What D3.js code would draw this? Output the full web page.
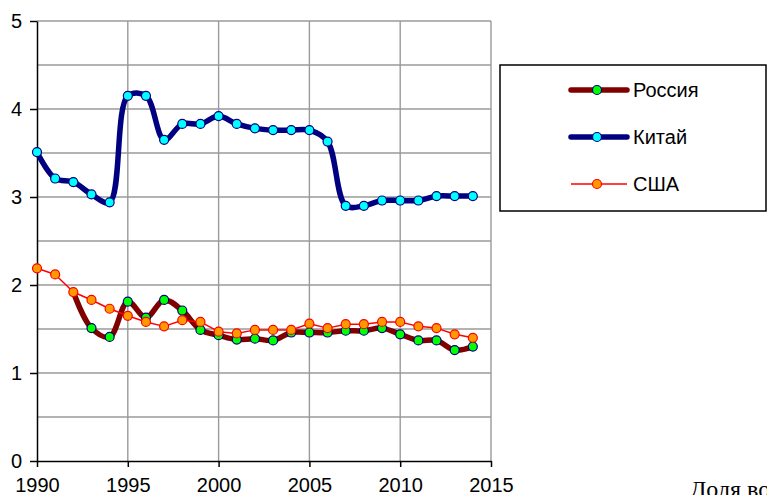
<!DOCTYPE html>
<html>
<head>
<meta charset="utf-8">
<script src="https://cdn.jsdelivr.net/npm/d3@7"></script>
<style>
  html, body { margin: 0; padding: 0; background: #fff; }
  svg { display: block; }
</style>
</head>
<body>
<div id="chart"></div>
<script>
const years = d3.range(1990, 2015);
const russia = [null, null, 1.92, 1.51, 1.41, 1.81, 1.63, 1.83, 1.71, 1.49, 1.43, 1.38, 1.39, 1.37,
  1.46, 1.46, 1.46, 1.48, 1.48, 1.51, 1.44, 1.37, 1.37, 1.26, 1.30];
const china = [3.51, 3.21, 3.17, 3.03, 2.94, 4.15, 4.15, 3.65, 3.83, 3.83, 3.92, 3.83, 3.78, 3.76,
  3.76, 3.76, 3.63, 2.90, 2.90, 2.96, 2.96, 2.96, 3.01, 3.01, 3.01];
const usa = [2.19, 2.12, 1.92, 1.83, 1.73, 1.65, 1.58, 1.53, 1.60, 1.58, 1.47, 1.45, 1.49, 1.49,
  1.49, 1.56, 1.51, 1.555, 1.555, 1.58, 1.58, 1.53, 1.51, 1.44, 1.40];
const xTicks = [1990, 1995, 2000, 2005, 2010, 2015];
const yTicks = [0, 1, 2, 3, 4, 5];
const seriesNames = ["Россия", "Китай", "США"];
const footText = "Доля военных расходов в ВВП";

const W = 767, H = 495;
const svg = d3.select("#chart").append("svg")
  .attr("width", W).attr("height", H)
  .style("font-family", "Arial, 'Liberation Sans', sans-serif");

const x = d3.scaleLinear().domain([1990, 2015]).range([37, 491]);
const y = d3.scaleLinear().domain([0, 5]).range([461, 21]);

// grid
const grid = svg.append("g").attr("stroke", "#9a9a9a").attr("stroke-width", 1.4);
grid.selectAll("line.h")
  .data(d3.range(0.5, 5.01, 0.5))
  .join("line")
  .attr("x1", x(1990)).attr("x2", x(2015))
  .attr("y1", d => y(d)).attr("y2", d => y(d));
grid.selectAll("line.v")
  .data(xTicks.slice(1))
  .join("line")
  .attr("x1", d => x(d)).attr("x2", d => x(d))
  .attr("y1", y(0)).attr("y2", y(5));

// axes
svg.append("g")
  .attr("transform", `translate(${x(1990)},0)`)
  .call(d3.axisLeft(y).tickValues(yTicks).tickFormat(d3.format("d")).tickSize(7).tickPadding(8).tickSizeOuter(0))
  .call(g => g.selectAll("line, path").attr("stroke", "#000").attr("stroke-width", 1.5))
  .selectAll("text")
  .attr("fill", "#000")
  .style("font-size", "20px");

svg.append("g")
  .attr("transform", `translate(0,${y(0)})`)
  .call(d3.axisBottom(x).tickValues(xTicks).tickFormat(d3.format("d")).tickSize(6).tickPadding(11).tickSizeOuter(0))
  .call(g => g.selectAll("line, path").attr("stroke", "#000").attr("stroke-width", 1.5))
  .selectAll("text")
  .attr("fill", "#000")
  .style("font-size", "20px");

const styles = [
  { values: russia, line: "#800000", width: 5.5, fill: "#00ff00", stroke: "#000080", curve: d3.curveCatmullRom.alpha(0.5) },
  { values: china, line: "#000080", width: 5.5, fill: "#00ffff", stroke: "#000080", curve: d3.curveCatmullRom.alpha(0.5) },
  { values: usa, line: "#ff0000", width: 1.5, fill: "#ff9900", stroke: "#ff0000", curve: d3.curveLinear }
];

styles.forEach(s => {
  const pts = years.map((yr, i) => ({ yr, v: s.values[i] })).filter(d => d.v != null);
  const line = d3.line().x(d => x(d.yr)).y(d => y(d.v)).curve(s.curve);
  svg.append("path")
    .datum(pts)
    .attr("fill", "none")
    .attr("stroke", s.line)
    .attr("stroke-width", s.width)
    .attr("stroke-linejoin", "round")
    .attr("stroke-linecap", "round")
    .attr("d", line);
  svg.append("g").selectAll("circle")
    .data(pts.filter(d => !(s.values === russia && d.yr === 1992)))
    .join("circle")
    .attr("cx", d => x(d.yr)).attr("cy", d => y(d.v))
    .attr("r", 4.5)
    .attr("fill", s.fill)
    .attr("stroke", s.stroke)
    .attr("stroke-width", 1.2);
});

// legend
const legend = svg.append("g");
legend.append("rect")
  .attr("x", 500).attr("y", 65).attr("width", 266).attr("height", 146)
  .attr("fill", "#fff").attr("stroke", "#000").attr("stroke-width", 1.5);

const rowY = d3.scalePoint().domain(seriesNames).range([90, 184]);
seriesNames.forEach((name, i) => {
  const s = styles[i];
  const ry = rowY(name);
  legend.append("line")
    .attr("x1", 571).attr("x2", 627).attr("y1", ry).attr("y2", ry)
    .attr("stroke", s.line).attr("stroke-width", s.width)
    .attr("stroke-linecap", s.width > 2 ? "round" : "butt");
  legend.append("circle")
    .attr("cx", 597).attr("cy", ry).attr("r", 4.5)
    .attr("fill", s.fill).attr("stroke", s.stroke).attr("stroke-width", 1.2);
  legend.append("text")
    .attr("x", 633).attr("y", ry).attr("dy", "0.36em")
    .style("font-size", "20px")
    .text(name);
});

svg.append("text")
  .attr("x", 690).attr("y", 497)
  .style("font-family", "'Liberation Serif', 'DejaVu Serif', serif")
  .style("font-size", "24px")
  .text(footText);
</script>
</body>
</html>
